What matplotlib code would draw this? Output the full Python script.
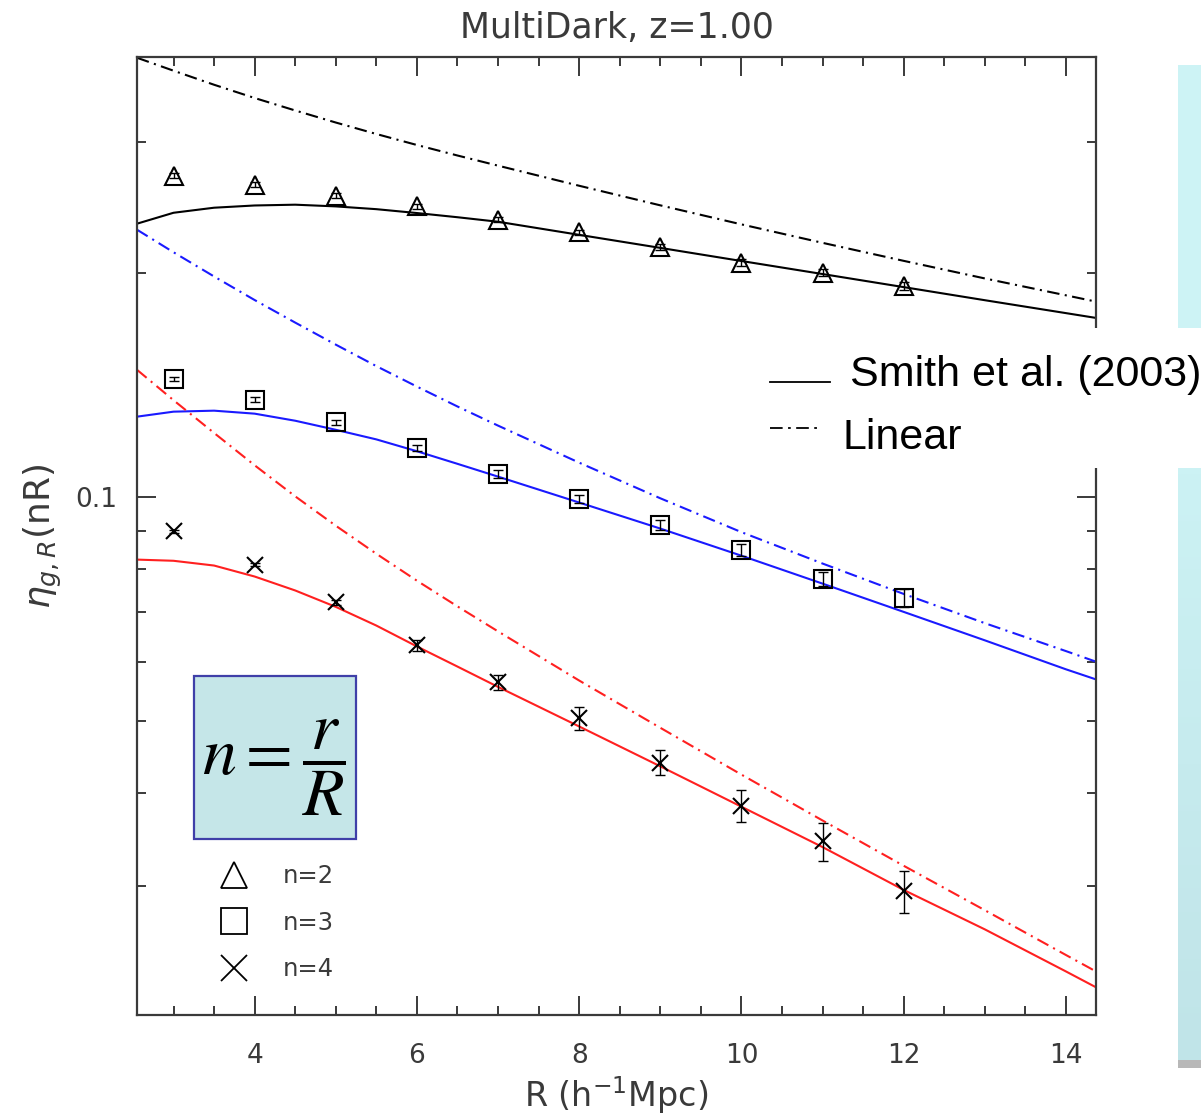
import numpy as np
import matplotlib
matplotlib.use('Agg')
import matplotlib.pyplot as plt
from matplotlib.patches import Rectangle
from matplotlib.lines import Line2D
from matplotlib.colors import LinearSegmentedColormap
from matplotlib.ticker import FixedLocator, FixedFormatter, NullFormatter, MultipleLocator

# ---------------- data ----------------
R_points = [3, 4, 5, 6, 7, 8, 9, 10, 11, 12]
eta_n2 = [0.2700, 0.2627, 0.2539, 0.2456, 0.2357, 0.2266, 0.2168, 0.2063, 0.2001, 0.1921]
err_n2 = [0.0020, 0.0020, 0.0020, 0.0020, 0.0020, 0.0020, 0.0020, 0.0022, 0.0022, 0.0024]
eta_n3 = [0.1439, 0.1350, 0.1259, 0.1163, 0.1074, 0.0993, 0.0917, 0.0849, 0.0775, 0.0731]
err_n3 = [0.0010, 0.0010, 0.0010, 0.0011, 0.0013, 0.0012, 0.0014, 0.0016, 0.0017, 0.0020]
eta_n4 = [0.0898, 0.0810, 0.0721, 0.0631, 0.0563, 0.0504, 0.0439, 0.0384, 0.0344, 0.0295]
err_n4 = [0.0004, 0.0004, 0.0006, 0.0010, 0.0013, 0.0018, 0.0017, 0.0019, 0.0020, 0.0019]

R_curve = [2.55, 3, 3.5, 4, 4.5, 5, 5.5, 6, 6.5, 7, 8, 9, 10, 11, 12, 13, 14, 14.37]
smith_n2 = [0.2328, 0.2408, 0.2446, 0.2463, 0.2469, 0.2456, 0.2435, 0.2406, 0.2375, 0.2342,
            0.2249, 0.2160, 0.2074, 0.1992, 0.1913, 0.1837, 0.1765, 0.1739]
linear_n2 = [0.3891, 0.3738, 0.3579, 0.3435, 0.3305, 0.3184, 0.3073, 0.2970, 0.2875, 0.2786,
             0.2618, 0.2464, 0.2323, 0.2194, 0.2075, 0.1965, 0.1865, 0.1829]
smith_n3 = [0.1281, 0.1301, 0.1305, 0.1293, 0.1265, 0.1230, 0.1194, 0.1151, 0.1107, 0.1064,
            0.0982, 0.0906, 0.0833, 0.0764, 0.0700, 0.0641, 0.0586, 0.0568]
linear_n3 = [0.2285, 0.2131, 0.1977, 0.1838, 0.1714, 0.1601, 0.1498, 0.1406, 0.1322, 0.1246,
             0.1111, 0.0995, 0.0896, 0.0813, 0.0740, 0.0676, 0.0620, 0.0600]
smith_n4 = [0.0823, 0.0820, 0.0808, 0.0781, 0.0748, 0.0711, 0.0671, 0.0629, 0.0591, 0.0555,
            0.0491, 0.0434, 0.0383, 0.0338, 0.0296, 0.0262, 0.0230, 0.0219]
linear_n4 = [0.1481, 0.1348, 0.1218, 0.1102, 0.1001, 0.0914, 0.0838, 0.0771, 0.0712, 0.0659,
             0.0566, 0.0489, 0.0423, 0.0367, 0.0319, 0.0278, 0.0242, 0.0230]

x_major = [4, 6, 8, 10, 12, 14]
y_major = [0.1]
y_major_labels = ['0.1']
y_minor = [0.03, 0.04, 0.05, 0.06, 0.07, 0.08, 0.09, 0.2, 0.3]

# ---------------- figure ----------------
W, H = 1201, 1118
fig = plt.figure(figsize=(W / 100, H / 100), dpi=100)
ax = fig.add_axes([137 / W, 1 - 1015 / H, (1096 - 137) / W, (1015 - 57) / H])
ax.set_yscale('log')
ax.set_xlim(2.55, 14.37)
ax.set_ylim(0.0201, 0.39)

grey = '#3a3a3a'
dd = (6, 2.6, 1, 2.6)
lw = 1.5

ax.plot(R_curve, linear_n2, color='black', lw=lw, dashes=dd)
ax.plot(R_curve, smith_n2, color='black', lw=lw)
ax.plot(R_curve, linear_n3, color='#1a1aff', lw=lw, dashes=dd)
ax.plot(R_curve, smith_n3, color='#1a1aff', lw=lw)
ax.plot(R_curve, linear_n4, color='#ff2020', lw=lw, dashes=dd)
ax.plot(R_curve, smith_n4, color='#ff2020', lw=lw)

for eta, err, mk, ms in [(eta_n2, err_n2, '^', 13), (eta_n3, err_n3, 's', 13), (eta_n4, err_n4, 'x', 11.5)]:
    ax.errorbar(R_points, eta, yerr=err, fmt='none', ecolor='black', elinewidth=1.0,
                capsize=3.5, capthick=1.0, zorder=4)
    ax.plot(R_points, eta, ls='none', marker=mk, ms=ms, mfc='none', mec='black', mew=1.5, zorder=5)

# ticks
for s in ax.spines.values():
    s.set_color(grey)
    s.set_linewidth(1.6)
ax.xaxis.set_major_locator(FixedLocator(x_major))
ax.xaxis.set_minor_locator(MultipleLocator(0.5))
ax.yaxis.set_major_locator(FixedLocator(y_major))
ax.yaxis.set_major_formatter(FixedFormatter(y_major_labels))
ax.yaxis.set_minor_locator(FixedLocator(y_minor))
ax.yaxis.set_minor_formatter(NullFormatter())
ax.tick_params(which='both', direction='in', top=True, right=True, color=grey, width=1.4,
               labelcolor=grey, labelsize=19)
ax.tick_params(which='major', length=13.5)
ax.tick_params(which='minor', length=6.5)
ax.tick_params(axis='x', which='major', pad=20)
ax.tick_params(axis='y', which='major', pad=14)

ax.set_title('MultiDark, z=1.00', fontsize=25, color=grey, pad=14)
ax.set_xlabel(r'R (h$^{-1}$Mpc)', fontsize=24, color=grey, labelpad=4)
ax.set_ylabel(r'$\eta_{g,R}$(nR)', fontsize=26, color=grey, labelpad=8)

# marker legend inside the axes
handles = [Line2D([], [], ls='none', marker='^', ms=18.5, mfc='none', mec='black', mew=1.3),
           Line2D([], [], ls='none', marker='s', ms=18.5, mfc='none', mec='black', mew=1.3),
           Line2D([], [], ls='none', marker='x', ms=18.5, mfc='none', mec='black', mew=1.3)]
leg = ax.legend(handles, ['n=2', 'n=3', 'n=4'], loc='upper left',
                bbox_to_anchor=((207 - 137) / (1096 - 137), (1015 - 852) / (1015 - 57)),
                frameon=False, fontsize=17.5, labelspacing=0.93, handlelength=1.2,
                handletextpad=1.4, borderpad=0)
for t in leg.get_texts():
    t.set_color(grey)

# formula box (slide overlay)
fig.add_artist(Rectangle((193.7 / W, 1 - 839 / H), 162.3 / W, 163.3 / H, transform=fig.transFigure,
                         facecolor='#c5e6e8', edgecolor='#3f3fa8', lw=1.6, zorder=10))
fig.text(274 / W, 1 - 768 / H, r'$n=\dfrac{r}{R}$', fontsize=49, math_fontfamily='stix',
         ha='center', va='center', zorder=11)

# white label area with line legend (slide overlay)
fig.add_artist(Rectangle((760 / W, 1 - 468 / H), 418 / W, 140 / H, transform=fig.transFigure,
                         facecolor='white', edgecolor='none', zorder=10))
fig.add_artist(Line2D([770 / W, 830 / W], [1 - 382 / H, 1 - 382 / H], transform=fig.transFigure,
                      color='black', lw=1.3, zorder=11))
fig.add_artist(Line2D([770 / W, 818 / W], [1 - 428 / H, 1 - 428 / H], transform=fig.transFigure,
                      color='black', lw=1.3, dashes=(7, 3, 1.5, 3), zorder=11))
fig.text(850 / W, 1 - 386 / H, 'Smith et al. (2003)', fontsize=31, family='Liberation Sans',
         ha='left', va='baseline', zorder=11)
fig.text(843 / W, 1 - 449 / H, 'Linear', fontsize=31, family='Liberation Sans',
         ha='left', va='baseline', zorder=11)

# cyan slide panels at the right edge
fig.add_artist(Rectangle((1178 / W, 1 - 328 / H), 30 / W, 263 / H, transform=fig.transFigure,
                         facecolor='#cdf3f5', edgecolor='none', zorder=10))
gax = fig.add_axes([1178 / W, 1 - 1060 / H, 30 / W, (1060 - 468) / H], zorder=10)
grad = np.linspace(0, 1, 100).reshape(-1, 1)
cm = LinearSegmentedColormap.from_list('c', ['#ccf2f4', '#c0e4e8'])
gax.imshow(grad, aspect='auto', cmap=cm, extent=(0, 1, 0, 1), origin='upper')
gax.set_axis_off()
fig.add_artist(Rectangle((1178 / W, 1 - 1068 / H), 30 / W, 8 / H, transform=fig.transFigure,
                         facecolor='#b8b8b8', edgecolor='none', zorder=10))

fig.savefig('out.png', dpi=100)
